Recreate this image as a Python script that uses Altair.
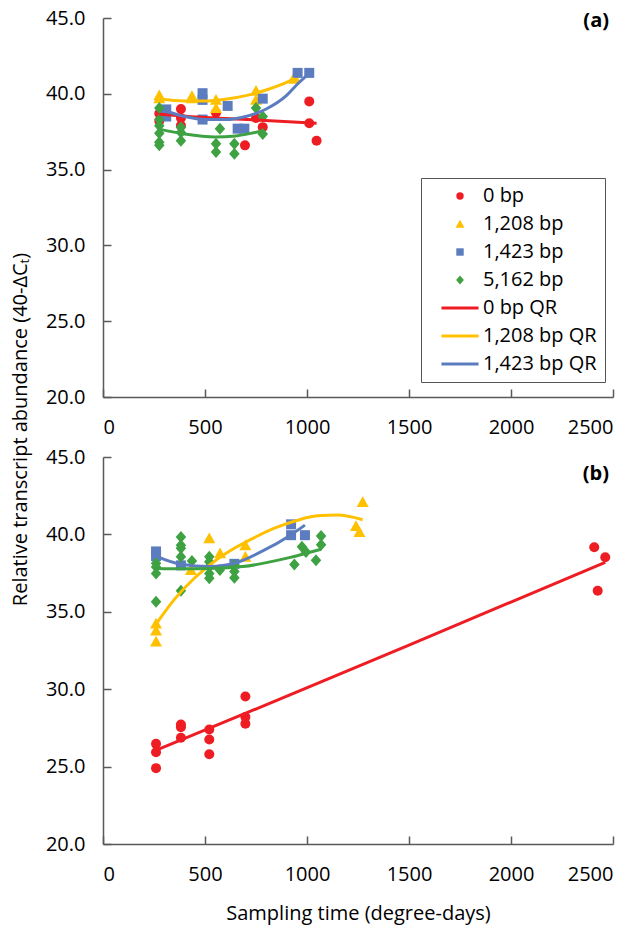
import altair as alt
import pandas as pd

# ---------------- data ----------------
SERIES = ["0 bp", "1,208 bp", "1,423 bp", "5,162 bp",
          "0 bp QR", "1,208 bp QR", "1,423 bp QR", "5,162 bp QR"]
LEGEND_VALUES = SERIES[:7]
COLORS = ["#EE1D23", "#FFC000", "#5B7DC0", "#3EA142",
          "#EE1D23", "#FFC000", "#5B7DC0", "#3EA142"]
LINE_PATH = "M-5,-0.4H5V0.4H-5Z"
TRI_PATH = "M0,-1.15L1.2,1L-1.2,1Z"
DIA_PATH = "M0,-1.2L1.05,0L0,1.2L-1.05,0Z"
SHAPES = ["circle", TRI_PATH, "square", DIA_PATH,
          LINE_PATH, LINE_PATH, LINE_PATH, LINE_PATH]

X_TICKS = [0, 500, 1000, 1500, 2000, 2500]
Y_TICKS = [20, 25, 30, 35, 40, 45]

# panel (a) measurements
a_red_t = [276, 276, 382, 382, 382, 554, 696, 750, 783, 1011, 1011, 1047]
a_red_v = [38.7, 38.2, 39.0, 38.4, 37.9, 38.75, 36.6, 38.4, 37.8, 39.5, 38.06, 36.9]
a_yel_t = [276, 276, 436, 436, 554, 554, 750, 750, 938, 938]
a_yel_v = [39.7, 39.9, 39.7, 39.85, 39.6, 39.07, 40.2, 39.6, 41.0, 41.1]
a_blu_t = [310, 310, 488, 488, 488, 611, 660, 693, 783, 954, 1011]
a_blu_v = [38.97, 38.5, 40.04, 39.6, 38.3, 39.2, 37.7, 37.7, 39.68, 41.38, 41.38]
a_grn_t = [276, 276, 276, 276, 276, 276, 382, 382, 382, 573, 554, 554, 644, 644, 750, 783, 783]
a_grn_v = [39.07, 38.3, 37.9, 37.4, 36.8, 36.6, 37.8, 37.45, 36.9, 37.7, 36.7, 36.16, 36.7, 36.05, 39.07, 38.5, 37.35]

# panel (a) quadratic-regression curves
a_red_qr_t = [276, 500, 750, 1047]
a_red_qr_v = [38.65, 38.43, 38.27, 38.05]
a_yel_qr_t = [276, 400, 500, 600, 700, 800, 900, 938]
a_yel_qr_v = [39.65, 39.52, 39.52, 39.64, 39.88, 40.25, 40.75, 41.0]
a_blu_qr_t = [310, 400, 500, 600, 700, 800, 900, 950, 1011]
a_blu_qr_v = [38.85, 38.5, 38.3, 38.3, 38.5, 39.0, 39.9, 40.6, 41.35]
a_grn_qr_t = [276, 400, 550, 650, 783]
a_grn_qr_v = [37.67, 37.35, 37.15, 37.22, 37.56]

# panel (b) measurements
b_red_t = [260, 260, 260, 382, 382, 382, 521, 521, 521, 698, 698, 698, 2408, 2425, 2462]
b_red_v = [26.47, 25.93, 24.9, 27.72, 27.55, 26.86, 27.4, 26.75, 25.8, 29.53, 28.2, 27.77, 39.17, 36.36, 38.52]
b_yel_t = [260, 260, 260, 431, 521, 574, 698, 698, 1240, 1257, 1273]
b_yel_v = [34.24, 33.8, 33.08, 37.7, 39.75, 38.78, 39.3, 38.56, 40.55, 40.16, 42.1]
b_blu_t = [260, 260, 382, 644, 922, 922, 990]
b_blu_v = [38.9, 38.6, 38.0, 38.1, 40.65, 39.95, 39.95]
b_grn_t = [260, 260, 260, 260, 382, 382, 382, 382, 382, 436, 521, 521, 521, 521, 521,
           573, 644, 644, 644, 938, 975, 995, 1044, 1069, 1069]
b_grn_v = [38.13, 37.9, 37.48, 35.65, 39.83, 39.3, 39.1, 38.56, 36.36, 38.28, 38.56, 38.24, 37.9, 37.48, 37.16,
           37.7, 38.0, 37.6, 37.2, 38.06, 39.2, 38.87, 38.33, 39.9, 39.33]

b_red_qr_t = [260, 700, 1500, 2462]
b_red_qr_v = [26.05, 28.45, 32.85, 38.2]
b_yel_qr_t = [260, 350, 450, 550, 650, 750, 850, 950, 1050, 1150, 1273]
b_yel_qr_v = [34.2, 35.8, 37.2, 38.3, 39.15, 39.85, 40.45, 40.9, 41.2, 41.25, 40.95]
b_blu_qr_t = [260, 382, 521, 652, 783, 913, 990]
b_blu_qr_v = [38.6, 38.07, 37.92, 38.17, 38.93, 39.9, 40.6]
b_grn_qr_t = [260, 400, 521, 685, 913, 1069]
b_grn_qr_v = [37.8, 37.78, 37.8, 37.92, 38.5, 39.04]


def make_df(pairs):
    rows = []
    for name, ts, vs in pairs:
        for t, v in zip(ts, vs):
            rows.append({"t": t, "v": v, "series": name})
    return pd.DataFrame(rows)


a_pts = make_df([("0 bp", a_red_t, a_red_v), ("1,208 bp", a_yel_t, a_yel_v),
                 ("1,423 bp", a_blu_t, a_blu_v), ("5,162 bp", a_grn_t, a_grn_v)])
a_qr = make_df([("0 bp QR", a_red_qr_t, a_red_qr_v), ("1,208 bp QR", a_yel_qr_t, a_yel_qr_v),
                ("1,423 bp QR", a_blu_qr_t, a_blu_qr_v), ("5,162 bp QR", a_grn_qr_t, a_grn_qr_v)])
b_pts = make_df([("0 bp", b_red_t, b_red_v), ("1,208 bp", b_yel_t, b_yel_v),
                 ("1,423 bp", b_blu_t, b_blu_v), ("5,162 bp", b_grn_t, b_grn_v)])
b_qr = make_df([("0 bp QR", b_red_qr_t, b_red_qr_v), ("1,208 bp QR", b_yel_qr_t, b_yel_qr_v),
                ("1,423 bp QR", b_blu_qr_t, b_blu_qr_v), ("5,162 bp QR", b_grn_qr_t, b_grn_qr_v)])

# ---------------- styling ----------------
W = 510
H_TOP, H_BOT = 379, 387
FONT = "Open Sans"
AXIS_COLOR = "#595959"
TICK_LEN = 8

xscale = alt.Scale(domain=[0, 2500], nice=False, zero=False)
yscale = alt.Scale(domain=[20, 45], nice=False, zero=False)
cscale = alt.Scale(domain=SERIES, range=COLORS)
sscale = alt.Scale(domain=SERIES, range=SHAPES)

# inward ticks: a negative tick length given as an expression
INWARD = alt.ExprRef(expr=str(-TICK_LEN))


def panel(pts, qr, tag, tag_y, first, h):
    xaxis = alt.Axis(values=X_TICKS, format="d", grid=False,
                     ticks=True, tickSize=INWARD, tickColor=AXIS_COLOR, tickWidth=1.5,
                     labelPadding=20 + TICK_LEN, labelFontSize=20, labelFont=FONT,
                     labelColor="black", domainColor=AXIS_COLOR, domainWidth=1.5,
                     title="" if first else "Sampling time (degree-days)",
                     titleFont=FONT, titleFontSize=20, titleFontWeight="normal",
                     titleColor="black", titlePadding=19)
    yaxis = alt.Axis(values=Y_TICKS, format=".1f", grid=False,
                     ticks=True, tickSize=INWARD, tickColor=AXIS_COLOR, tickWidth=1.5,
                     labelPadding=18 + TICK_LEN, labelFontSize=20, labelFont=FONT,
                     labelColor="black", domainColor=AXIS_COLOR, domainWidth=1.5,
                     title="" if first else "Relative transcript abundance (40-ΔCₜ)",
                     titleFont=FONT, titleFontSize=20, titleFontWeight="normal",
                     titleColor="black", titlePadding=15, titleY=-28)
    if first:
        leg = alt.Legend(title=None, orient="none", legendX=318, legendY=160,
                         values=LEGEND_VALUES, strokeColor="#555555", fillColor="white",
                         padding=8, symbolSize=55, symbolOffset=21, labelOffset=13,
                         labelFontSize=20, labelFont=FONT, labelColor="black",
                         rowPadding=8, symbolStrokeWidth=0)
    else:
        leg = None

    X = alt.X("t:Q", scale=xscale, axis=xaxis)
    Y = alt.Y("v:Q", scale=yscale, axis=yaxis)

    points = alt.Chart(pts).mark_point(filled=True, opacity=1, size=100).encode(
        x=X, y=Y,
        color=alt.Color("series:N", scale=cscale, legend=leg),
        shape=alt.Shape("series:N", scale=sscale, legend=leg),
    )
    lines = alt.Chart(qr).mark_line(strokeWidth=3, interpolate="monotone").encode(
        x=X, y=Y,
        color=alt.Color("series:N", scale=cscale, legend=None),
    )
    label = alt.Chart(pd.DataFrame({"tag": [tag]})).mark_text(
        align="right", baseline="middle", font=FONT, fontSize=20,
        fontWeight="bold", color="black").encode(
        text="tag:N", x=alt.value(W - 4), y=alt.value(tag_y))
    return alt.layer(points, lines, label).properties(width=W, height=h)


top = panel(a_pts, a_qr, "(a)", 3, True, H_TOP)
bottom = panel(b_pts, b_qr, "(b)", 17, False, H_BOT)

chart = alt.vconcat(top, bottom, spacing=60, bounds="flush").resolve_scale(
    color="independent", shape="independent"
).resolve_legend(
    color="independent", shape="independent"
).configure_view(stroke=None).properties(
    padding={"left": 2, "top": 0, "right": 5, "bottom": 5}
)

chart.save("out.html", embed_options={"renderer": "svg", "actions": False})
